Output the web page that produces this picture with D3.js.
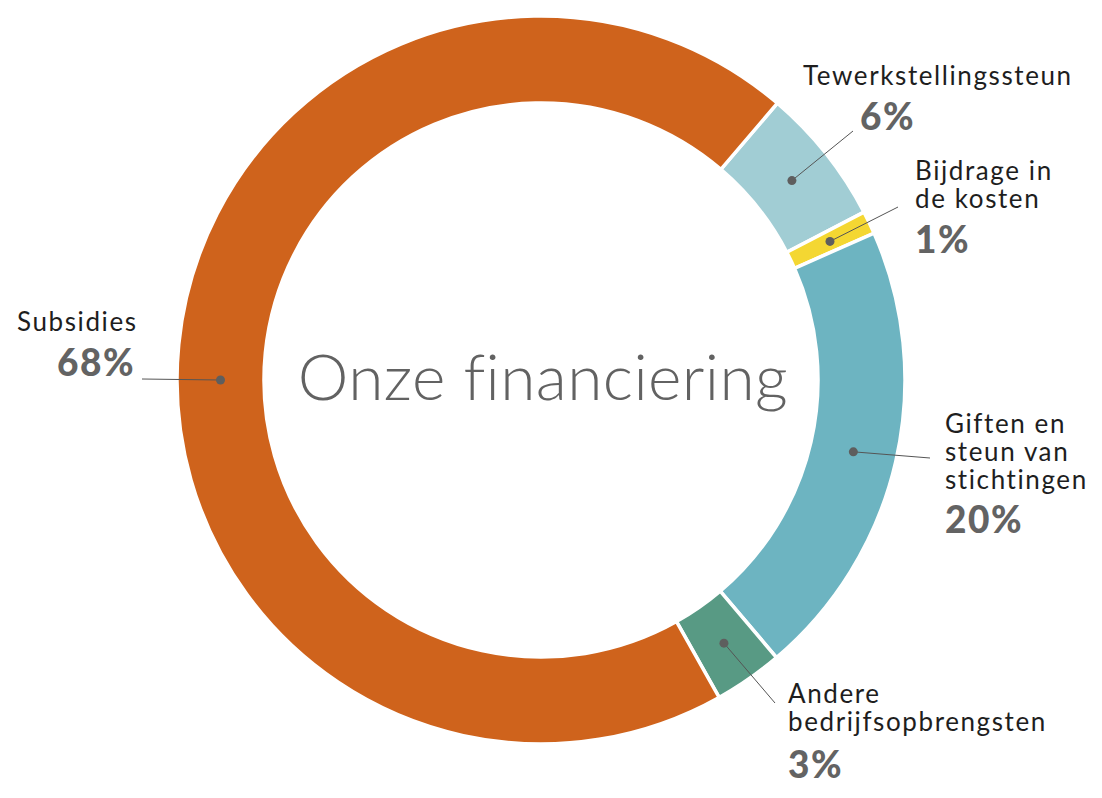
<!DOCTYPE html>
<html>
<head>
<meta charset="utf-8">
<script src="https://cdn.jsdelivr.net/npm/d3@7"></script>
<style>
  body { margin: 0; background: #fff; }
  text { font-family: Lato, "Open Sans", sans-serif; }
</style>
</head>
<body>
<script>
const width = 1102,
  height = 798;

// data
const categories = ["Tewerkstellingssteun", "Bijdrage in de kosten", "Giften en steun van stichtingen", "Andere bedrijfsopbrengsten", "Subsidies"];
const values = [6, 1, 20, 3, 68];
const colors = ["#a1cdd4", "#f4d732", "#6db4c1", "#589a84", "#cf631c"];
// label lines as they are broken in the picture
const labelLines = [
  ["Tewerkstellingssteun"],
  ["Bijdrage in", "de kosten"],
  ["Giften en", "steun van", "stichtingen"],
  ["Andere", "bedrijfsopbrengsten"],
  ["Subsidies"]
];

// layout of the labels (x, y of first line, anchor of %, end of leader)
const labelLayout = [
  { x: 803, y: 85, px: 860, py: 130, anchor: "start", lx: 853, ly: 131 },
  { x: 915, y: 180, px: 915, py: 253, anchor: "start", lx: 898, ly: 207 },
  { x: 945, y: 433, px: 945, py: 533, anchor: "start", lx: 930, ly: 458 },
  { x: 788, y: 703, px: 788, py: 778, anchor: "start", lx: 775, ly: 703 },
  { x: 17, y: 331, px: 135, py: 376, anchor: "end", lx: 142, ly: 379, dotAngle: -Math.PI / 2 }
];

const cx = 541,
  cy = 380,
  outerR = 364,
  innerR = 277;

const svg = d3
  .select("body")
  .append("svg")
  .attr("width", width)
  .attr("height", height);

const g = svg.append("g").attr("transform", `translate(${cx},${cy})`);

const start = (40.5 * Math.PI) / 180;
const pie = d3
  .pie()
  .sort(null)
  .startAngle(start)
  .endAngle(start + 2 * Math.PI);

const arc = d3.arc().innerRadius(innerR).outerRadius(outerR);
const arcs = pie(values);

g.selectAll("path.slice")
  .data(arcs)
  .join("path")
  .attr("class", "slice")
  .attr("d", arc)
  .attr("fill", (d, i) => colors[i])
  .attr("stroke", "#fff")
  .attr("stroke-width", 3.5);

// centre title
svg
  .append("text")
  .attr("x", cx + 2)
  .attr("y", 400)
  .attr("text-anchor", "middle")
  .attr("font-size", 64)
  .attr("font-weight", 300)
  .attr("letter-spacing", 0.4)
  .attr("fill", "#626262")
  .text("Onze financiering");

const midR = (innerR + outerR) / 2;

arcs.forEach((d, i) => {
  const lay = labelLayout[i];
  let dx, dy;
  if (lay.dotAngle !== undefined) {
    dx = midR * Math.sin(lay.dotAngle);
    dy = -midR * Math.cos(lay.dotAngle);
  } else {
    [dx, dy] = arc.centroid(d);
  }
  const px = cx + dx,
    py = cy + dy;

  svg
    .append("line")
    .attr("x1", px)
    .attr("y1", py)
    .attr("x2", lay.lx)
    .attr("y2", lay.ly)
    .attr("stroke", "#555")
    .attr("stroke-width", 1);

  svg
    .append("circle")
    .attr("cx", px)
    .attr("cy", py)
    .attr("r", 4.5)
    .attr("fill", "#5e5e5e");

  const t = svg
    .append("text")
    .attr("x", lay.x)
    .attr("y", lay.y)
    .attr("font-size", 26)
    .attr("letter-spacing", 1.6)
    .attr("fill", "#1e1e1e");
  labelLines[i].forEach((line, j) => {
    t.append("tspan")
      .attr("x", lay.x)
      .attr("dy", j === 0 ? 0 : 28)
      .text(line);
  });

  svg
    .append("text")
    .attr("x", lay.px)
    .attr("y", lay.py)
    .attr("text-anchor", lay.anchor)
    .attr("font-size", 37)
    .attr("font-weight", 900)
    .attr("letter-spacing", 1.5)
    .attr("fill", "#636363")
    .text(values[i] + "%");
});
</script>
</body>
</html>
